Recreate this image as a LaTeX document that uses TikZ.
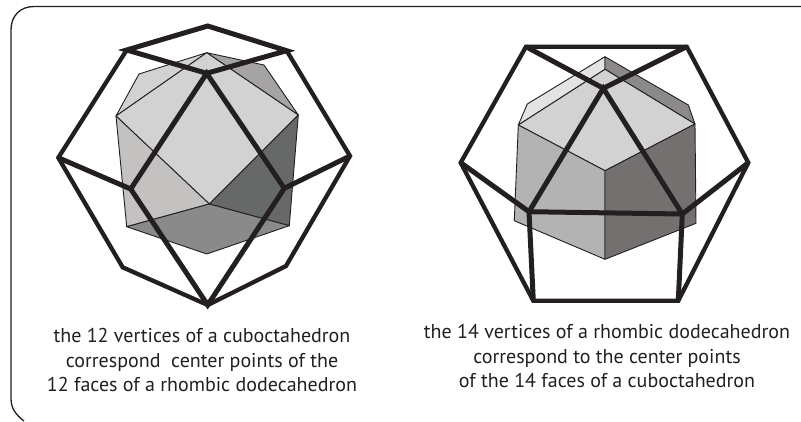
\documentclass[tikz,border=0pt]{standalone}
\usepackage{fontspec}
\setmainfont{PT Sans}
\usepackage{xcolor}
\definecolor{face_light}{HTML}{D2D2D2}
\definecolor{face_pale}{HTML}{E3E3E3}
\definecolor{face_left}{HTML}{C3C2C0}
\definecolor{face_right}{HTML}{676968}
\definecolor{face_back}{HTML}{A5A3A4}
\definecolor{face_under}{HTML}{8A8A8A}
\definecolor{rhomb_left}{HTML}{B3B3B3}
\definecolor{rhomb_right}{HTML}{757070}
\definecolor{rhomb_back}{HTML}{8B898A}
\definecolor{wire_ink}{HTML}{231F20}

\begin{document}
\begin{tikzpicture}[
                x=1pt, y=-1pt,
                face/.style={draw=wire_ink, line width=0.9pt, line join=round},
                wire_bold/.style={draw=wire_ink, line width=5pt, line join=miter},
                wire_thin/.style={draw=wire_ink, line width=4.3pt, line join=miter},
                caption_text/.style={font=\fontsize{20}{24.5}\selectfont, text=wire_ink, align=center, inner sep=0pt}
            ]
                \useasboundingbox (0,0) rectangle (801,421);

                % Outer frame (runs off the page at right and bottom)
                \coordinate (frame_start) at (24,421);
                \coordinate (frame_end) at (801,6.5);
                \draw[wire_ink, line width=1.3pt] (frame_start) .. controls (15,414) and (11,408) .. (11,398)
                    -- (11,30) .. controls (11,16) and (20,6.5) .. (34,6.5) -- (frame_end);

                % Cuboctahedron (left)
                \coordinate (c_apex) at (206.7,52.7);
                \coordinate (c_back) at (139,74);
                \coordinate (c_left) at (116,116);
                \coordinate (c_right) at (298.3,115);
                \coordinate (c_rback) at (264,65);
                \coordinate (c_lowl) at (126.7,226.7);
                \coordinate (c_lowr) at (289.3,225.7);
                \coordinate (c_front) at (209.3,204);
                \coordinate (c_bottom) at (206.7,254);
                \filldraw[face, fill=face_light] (c_apex) -- (c_back) -- (c_left) -- cycle;
                \filldraw[face, fill=face_back] (c_apex) -- (c_rback) -- (c_right) -- cycle;
                \filldraw[face, fill=face_light] (c_left) -- (c_apex) -- (c_right) -- (c_front) -- cycle;
                \filldraw[face, fill=face_left] (c_left) -- (c_front) -- (c_lowl) -- cycle;
                \filldraw[face, fill=face_right] (c_right) -- (c_front) -- (c_lowr) -- cycle;
                \filldraw[face, fill=face_under] (c_lowl) -- (c_front) -- (c_lowr) -- (c_bottom) -- cycle;

                % Rhombic dodecahedron wire (left)
                \coordinate (w_top) at (207.7,26);
                \coordinate (w_tl) at (126.7,50);
                \coordinate (w_tr) at (286.7,50.7);
                \coordinate (w_mid) at (206.7,73.3);
                \coordinate (w_l) at (58.3,157.7);
                \coordinate (w_r) at (350,156);
                \coordinate (w_li) at (130.7,189);
                \coordinate (w_ri) at (284.3,188.3);
                \coordinate (w_bl) at (122.7,267.3);
                \coordinate (w_br) at (286,266);
                \coordinate (w_b) at (207.7,305);
                \draw[wire_thin] (w_tl) -- (w_l) -- (w_bl) -- (w_b) -- (w_br) -- (w_r) -- (w_tr);
                \draw[wire_bold] (w_tl) -- (w_top) -- (w_tr) -- (w_mid) -- cycle;
                \draw[wire_bold] (w_l) -- (w_li) -- (w_b) -- (w_ri) -- (w_r);
                \draw[wire_bold] (w_li) -- (w_mid) -- (w_ri);

                % Rhombic dodecahedron (right)
                \coordinate (r_apex) at (605,56.7);
                \coordinate (r_inner) at (605,69.3);
                \coordinate (r_bl) at (527.3,104);
                \coordinate (r_left) at (518.3,125);
                \coordinate (r_br) at (688.3,105);
                \coordinate (r_right) at (695,124);
                \coordinate (r_front) at (605,170.7);
                \coordinate (r_lowr) at (696,223.3);
                \coordinate (r_lowl) at (514.3,220.7);
                \coordinate (r_bottom) at (605,259.3);
                \filldraw[face, fill=face_pale] (r_apex) -- (r_bl) -- (r_left) -- (r_inner) -- cycle;
                \filldraw[face, fill=rhomb_back] (r_apex) -- (r_br) -- (r_right) -- (r_inner) -- cycle;
                \filldraw[face, fill=face_light] (r_left) -- (r_inner) -- (r_right) -- (r_front) -- cycle;
                \filldraw[face, fill=rhomb_left] (r_left) -- (r_front) -- (r_bottom) -- (r_lowl) -- cycle;
                \filldraw[face, fill=rhomb_right] (r_right) -- (r_front) -- (r_bottom) -- (r_lowr) -- cycle;

                % Cuboctahedron wire (right)
                \coordinate (v_tl) at (526,46.7);
                \coordinate (v_tr) at (686.7,46.7);
                \coordinate (v_mid) at (603.3,88.3);
                \coordinate (v_l) at (460.7,162.7);
                \coordinate (v_r) at (748.3,162.7);
                \coordinate (v_li) at (529,211.7);
                \coordinate (v_ri) at (682.3,214);
                \coordinate (v_bl) at (533.3,300.7);
                \coordinate (v_br) at (678.3,300.7);
                \draw[wire_thin] (v_tl) -- (v_l) -- (v_bl) -- (v_br) -- (v_r) -- (v_tr) -- cycle;
                \draw[wire_bold] (v_tl) -- (v_mid) -- (v_tr);
                \draw[wire_bold] (v_l) -- (v_li) -- (v_ri) -- (v_r);
                \draw[wire_bold] (v_li) -- (v_mid) -- (v_ri);
                \draw[wire_bold] (v_li) -- (v_bl);
                \draw[wire_bold] (v_ri) -- (v_br);

                % Captions
                \node[caption_text] (caption_left) at (202,360) {the 12 vertices of a cuboctahedron\\correspond\ \ center points of the\\12 faces of a rhombic dodecahedron};
                \node[caption_text] (caption_right) at (607,356) {the 14 vertices of a rhombic dodecahedron\\correspond to the center points\\of the 14 faces of a cuboctahedron};

            \end{tikzpicture}
\end{document}
